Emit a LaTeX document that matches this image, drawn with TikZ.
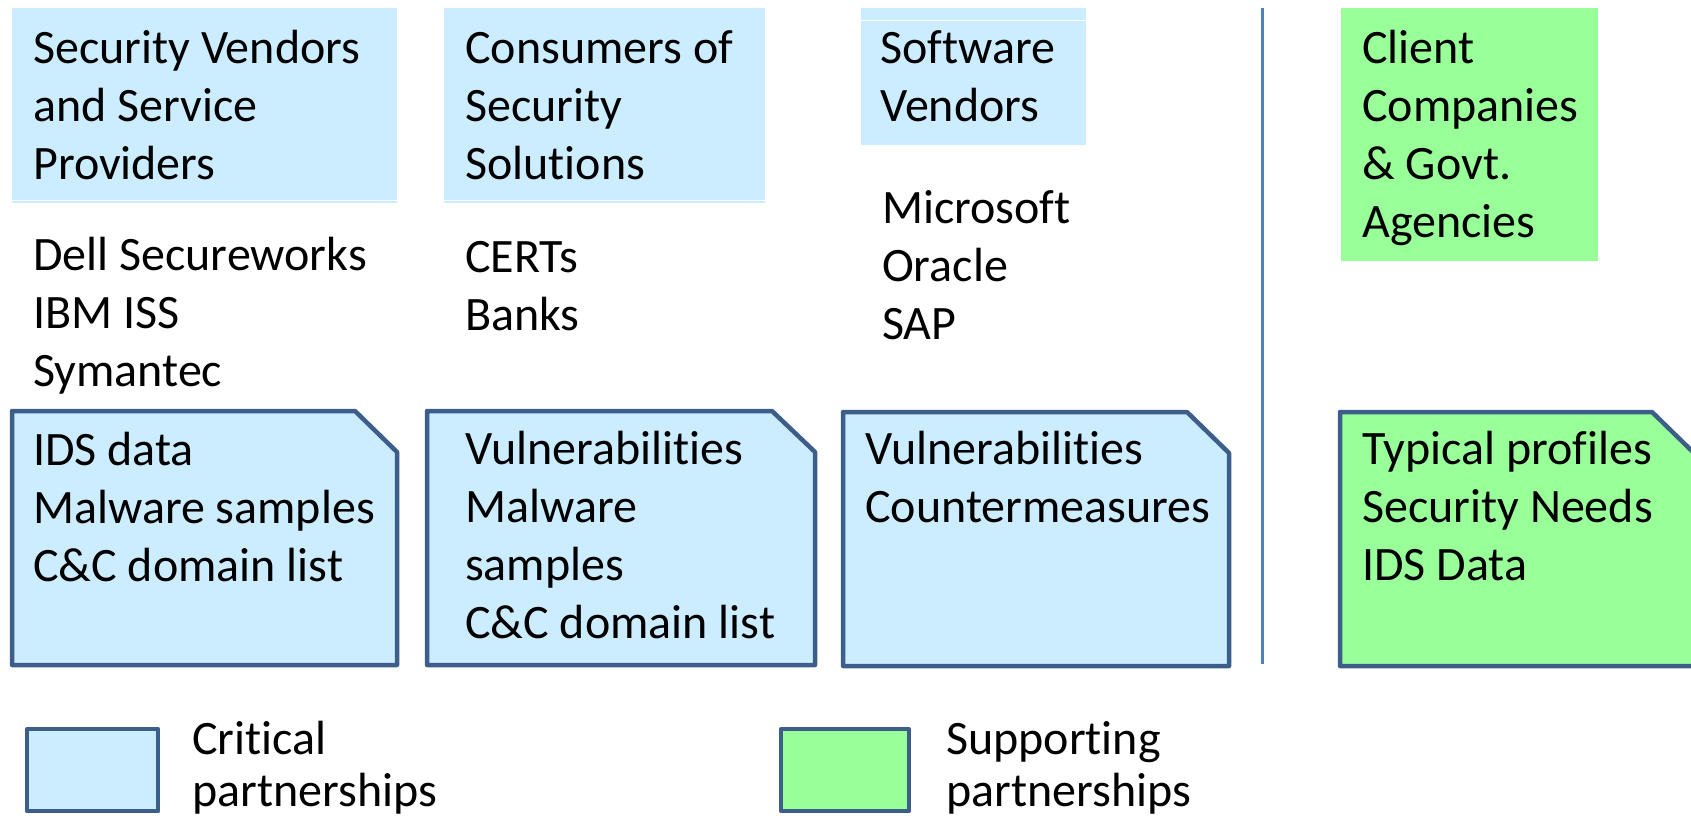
\documentclass[tikz,border=0pt]{standalone}
\usepackage{fontspec}
\setmainfont{Carlito}[Ligatures=NoCommon]
\definecolor{lblue}{RGB}{204,236,255}
\definecolor{lgreen}{RGB}{153,255,153}
\definecolor{edge}{RGB}{62,94,138}
\definecolor{divider}{RGB}{79,129,189}
\newcommand\mlines[1]{\vtop{\halign{##\hfil\cr#1\crcr}}}
\tikzset{
  txt/.style={anchor=base west, inner sep=0pt, font=\fontsize{48}{58}\selectfont},
  legtxt/.style={anchor=base west, inner sep=0pt, font=\fontsize{48}{52}\selectfont},
  card/.style={draw=edge, line width=4.5pt, line join=round},
}
\begin{document}
\begin{tikzpicture}[x=1pt,y=-1pt]
\useasboundingbox (0,0) rectangle (1691,815);
% top header boxes
\fill[lblue] (12,8) rectangle (397,203);
\draw[white, line width=1pt] (12,200) -- (397,200);
\fill[lblue] (444,8) rectangle (765,203);
\draw[white, line width=1pt] (444,200) -- (765,200);
\fill[lblue] (861,8) rectangle (1086,145);
\draw[white, line width=1pt] (861,20) -- (1086,20);
\fill[lgreen] (1341,8) rectangle (1598,261);
% divider
\coordinate (dtop) at (1262,8);
\coordinate (dbot) at (1262,664);
\draw[divider, line width=3pt] (dtop) -- (dbot);
% header texts
\node[txt] (h1) at (33,63) {\mlines{Security Vendors\cr and Service\cr Providers}};
\node[txt] (h2) at (465,63) {\mlines{Consumers of\cr Security\cr Solutions}};
\node[txt] (h3) at (880,63) {\mlines{Software\cr Vendors}};
\node[txt] (h4) at (1362,63) {\mlines{Client\cr Companies\cr \& Govt.\cr Agencies}};
% example lists
\node[txt] (e1) at (33,270) {\mlines{Dell Secureworks\cr IBM ISS\cr Symantec}};
\node[txt] (e2) at (465,272) {\mlines{CERTs\cr Banks}};
\node[txt] (e3) at (882,223) {\mlines{Microsoft\cr Oracle\cr SAP}};
% bottom cards with cut corner
\draw[card, fill=lblue] (12,411) -- (355,411) -- (397,452) -- (397,665) -- (12,665) -- cycle;
\draw[card, fill=lblue] (427,411) -- (772,411) -- (815,452) -- (815,665) -- (427,665) -- cycle;
\draw[card, fill=lblue] (843,412) -- (1187,412) -- (1229,453) -- (1229,666) -- (843,666) -- cycle;
\draw[card, fill=lgreen] (1340,412) -- (1652,412) -- (1694,453) -- (1694,666) -- (1340,666) -- cycle;
\node[txt] (c1) at (33,465) {\mlines{IDS data\cr Malware samples\cr C\&C domain list}};
\node[txt] (c2) at (465,464) {\mlines{Vulnerabilities\cr Malware\cr samples\cr C\&C domain list}};
\node[txt] (c3) at (865,464) {\mlines{Vulnerabilities\cr Countermeasures}};
\node[txt] (c4) at (1362,464) {\mlines{Typical profiles\cr Security Needs\cr IDS Data}};
% legend
\draw[card, fill=lblue] (27,729) rectangle (158,811);
\node[legtxt] (l1) at (192,754) {\mlines{Critical\cr partnerships}};
\draw[card, fill=lgreen] (781,729) rectangle (909,811);
\node[legtxt] (l2) at (946,754) {\mlines{Supporting\cr partnerships}};
\end{tikzpicture}
\end{document}
